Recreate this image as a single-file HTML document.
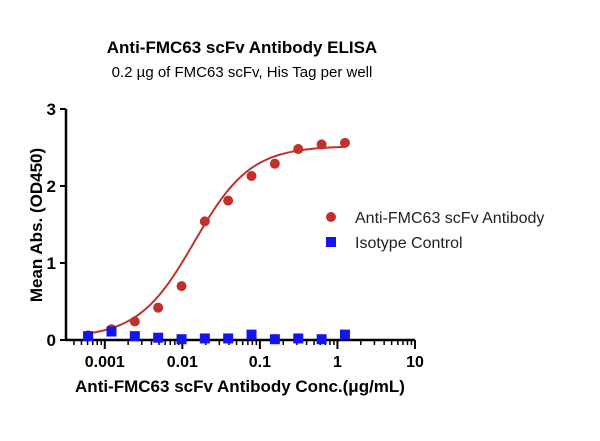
<!DOCTYPE html>
<html><head><meta charset="utf-8"><style>
body{margin:0;background:#fff;width:600px;height:436px;overflow:hidden}
svg{font-family:"Liberation Sans",Arial,sans-serif}
</style></head><body>
<svg width="600" height="436">
<text x="242" y="53" text-anchor="middle" font-size="17" font-weight="bold">Anti-FMC63 scFv Antibody ELISA</text>
<text x="242" y="77" text-anchor="middle" font-size="15">0.2 µg of FMC63 scFv, His Tag per well</text>
<text transform="translate(42,225) rotate(-90)" text-anchor="middle" font-size="17" font-weight="bold">Mean Abs. (OD450)</text>
<text x="240" y="392" text-anchor="middle" font-size="17" font-weight="bold">Anti-FMC63 scFv Antibody Conc.(μg/mL)</text>
<g id="axes"></g><g id="marks"></g>
<g>
<circle cx="331" cy="217" r="5" fill="#c0312e"/>
<text x="355" y="223" font-size="16" fill="#222">Anti-FMC63 scFv Antibody</text>
<rect x="326" y="237" width="10" height="10" fill="#1414f0"/>
<text x="355" y="248" font-size="16" fill="#222">Isotype Control</text>
</g>
</svg>
<script>
const conc=[0.00061,0.00122,0.00244,0.00488,0.00977,0.0195,0.039,0.078,0.156,0.3125,0.625,1.25];
const antibody=[0.06,0.14,0.24,0.42,0.70,1.54,1.81,2.13,2.29,2.48,2.54,2.56];
const isotype=[0.05,0.11,0.05,0.03,0.01,0.02,0.02,0.07,0.01,0.02,0.01,0.07];
const xTicks=[0.001,0.01,0.1,1,10];
const xTickLabels=["0.001","0.01","0.1","1","10"];
const yTicks=[0,1,2,3];
const fit={bottom:0.03,top:2.52,ec50:0.0143,hill:1.2};
const NS="http://www.w3.org/2000/svg";
const X0=66,X1=415,Y0=340,Y1=109,LMIN=-3.5,LMAX=1,YMAX=3;
const sx=v=>X0+(Math.log10(v)-LMIN)/(LMAX-LMIN)*(X1-X0);
const sy=v=>Y0-v/YMAX*(Y0-Y1);
function mk(t,a,p){const e=document.createElementNS(NS,t);for(const k in a)e.setAttribute(k,a[k]);p.appendChild(e);return e;}
const ax=document.getElementById('axes'),mg=document.getElementById('marks');
let e=mk('line',{x1:X0,y1:Y0,x2:X1,y2:Y0,stroke:'#000','stroke-width':2.5},ax);


e=mk('line',{x1:X0,y1:Y0+1,x2:X0,y2:Y1,stroke:'#000','stroke-width':2.5},ax);


yTicks.forEach(v=>{
 mk('line',{x1:X0-6,y1:sy(v),x2:X0,y2:sy(v),stroke:'#000','stroke-width':2},ax);
 const t=mk('text',{x:X0-10,y:sy(v)+6,'text-anchor':'end','font-size':17,'font-weight':'bold'},ax);
 t.textContent=v;
 
 
});
for(let d=-4;d<1;d++)for(let m=1;m<10;m++){
 const v=m*Math.pow(10,d);const x=sx(v);if(x<X0-0.5||x>X1+0.5)continue;
 mk('line',{x1:x,y1:Y0,x2:x,y2:Y0+(m==1?9:5),stroke:'#000','stroke-width':m==1?2:1.5},ax);
}
mk('line',{x1:sx(10),y1:Y0,x2:sx(10),y2:Y0+9,stroke:'#000','stroke-width':2},ax);
xTicks.forEach((v,i)=>{
 const t=mk('text',{x:sx(v),y:Y0+27,'text-anchor':'middle','font-size':16,'font-weight':'bold'},ax);
 t.textContent=xTickLabels[i];
 
 
});
let d='';
for(let i=0;i<=120;i++){
 const l=Math.log10(conc[0])+(Math.log10(conc[conc.length-1])-Math.log10(conc[0]))*i/120;
 const v=Math.pow(10,l);
 const y=fit.bottom+(fit.top-fit.bottom)/(1+Math.pow(fit.ec50/v,fit.hill));
 d+=(i?'L':'M')+sx(v).toFixed(1)+','+sy(y).toFixed(1);
}
e=mk('path',{d:d,fill:'none',stroke:'#c0312e','stroke-width':2},mg);


conc.forEach((c,i)=>{
 const p=mk('circle',{cx:sx(c),cy:sy(antibody[i]),r:5,fill:'#c0312e'},mg);
 
 
});
conc.forEach((c,i)=>{
 const p=mk('rect',{x:sx(c)-5,y:sy(isotype[i])-5,width:10,height:10,fill:'#1414f0'},mg);
 
 
});
</script>
</body></html>
